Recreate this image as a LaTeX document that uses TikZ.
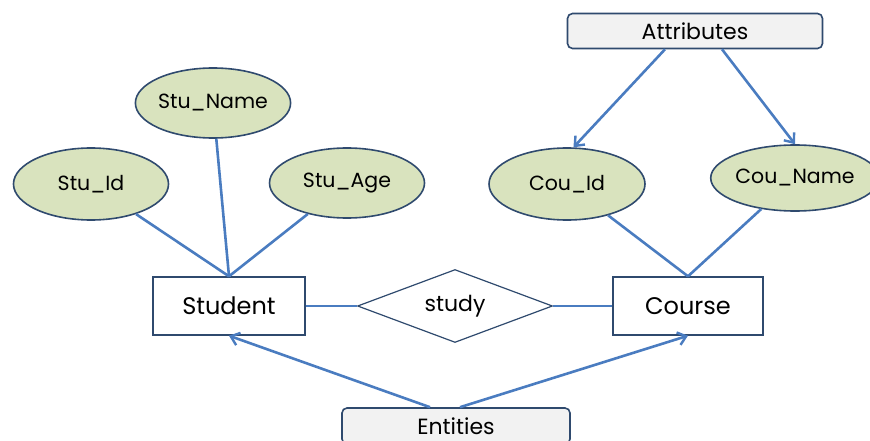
\documentclass[tikz,border=0pt]{standalone}
\usepackage{fontspec}
\setmainfont{Poppins}
\usetikzlibrary{shapes.geometric,arrows.meta}
\definecolor{linec}{HTML}{4A7CC0}
\definecolor{edgec}{HTML}{2F4A6E}
\definecolor{attrfill}{HTML}{D9E3BE}
\definecolor{boxfill}{HTML}{F2F2F2}
\tikzset{
  attr/.style={ellipse, draw=edgec, line width=1.6pt, fill=attrfill, inner sep=0pt, font=\fontsize{20.5}{24}\selectfont},
  entity/.style={rectangle, draw=edgec, line width=1.4pt, fill=white, inner sep=0pt, font=\fontsize{24}{28}\selectfont},
  rel/.style={diamond, aspect=2.67, draw=edgec, line width=1.2pt, fill=white, inner sep=0pt, font=\fontsize{22}{26}\selectfont},
  label box/.style={rectangle, rounded corners=5pt, draw=edgec, line width=1.6pt, fill=boxfill, inner sep=0pt, font=\fontsize{22}{26}\selectfont},
  conn/.style={draw=linec, line width=2.6pt},
  arr/.style={conn, -{Straight Barb[length=8pt,width=13pt,line width=2.4pt]}},
}
\begin{document}
\begin{tikzpicture}[x=1pt,y=-1pt]
\useasboundingbox (0,0) rectangle (870,441);
\node[label box, minimum width=255, minimum height=35] (attrs) at (695,31) {Attributes};
\node[attr, minimum width=154, minimum height=70] (stuname) at (213,103) {Stu\_Name};
\node[attr, minimum width=155, minimum height=72] (stuid) at (91,184) {Stu\_Id};
\node[attr, minimum width=155, minimum height=70] (stuage) at (347,183) {Stu\_Age};
\node[attr, minimum width=156, minimum height=72] (couid) at (567,184) {Cou\_Id};
\node[attr, minimum width=152, minimum height=66] (couname) at (795,178) {Cou\_Name};
\node[entity, minimum width=152, minimum height=58] (student) at (229,306) {Student};
\node[rel, minimum width=195, minimum height=73] (study) at (455,306) {study};
\node[entity, minimum width=150, minimum height=58] (course) at (688,306) {Course};
\node[label box, minimum width=228, minimum height=36] (entities) at (456,426) {Entities};

\draw[conn] (stuid) -- (student.north);
\draw[conn] (stuname) -- (student.north);
\draw[conn] (stuage) -- (student.north);
\draw[conn] (couid) -- (course.north);
\draw[conn] (couname) -- (course.north);
\draw[conn] (student) -- (study);
\draw[conn] (study) -- (course);
\draw[arr] ([xshift=-30pt]attrs.south) -- (couid.80);
\draw[arr] ([xshift=27pt]attrs.south) -- (couname.north);
\draw[arr] ([xshift=-26pt]entities.north) -- (student.south);
\draw[arr] ([xshift=4pt]entities.north) -- (course.south);
\end{tikzpicture}
\end{document}
